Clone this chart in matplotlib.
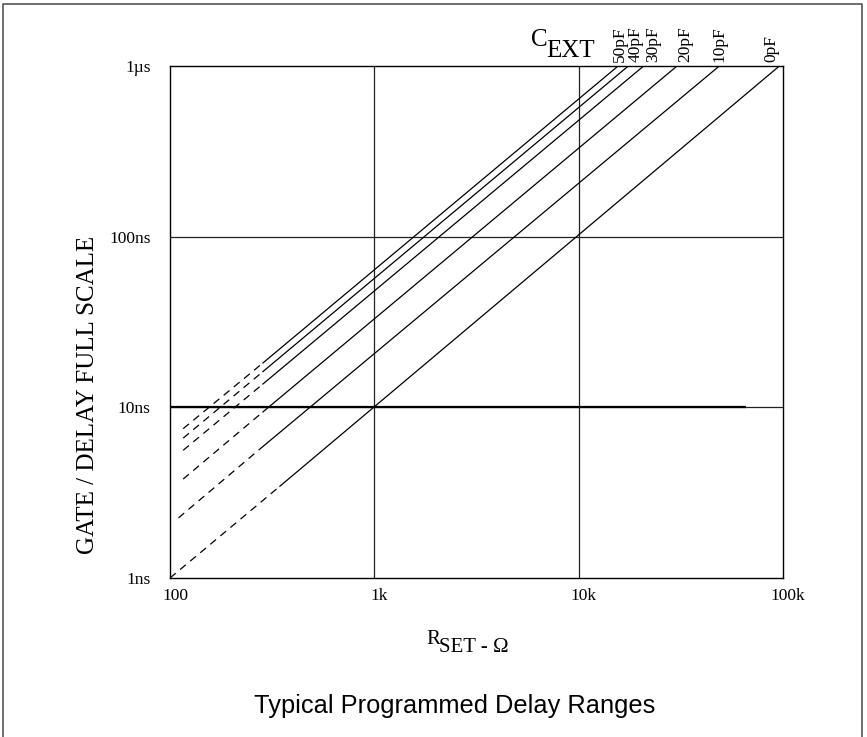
import matplotlib
matplotlib.use("Agg")
import matplotlib.pyplot as plt
from matplotlib.lines import Line2D
from matplotlib.transforms import ScaledTranslation

# ---- data ----
cap_labels = ["50pF", "40pF", "30pF", "20pF", "10pF", "0pF"]
dash_start_r = [116, 116, 116, 116, 110, 100]        # ohms
dash_start_t = [7.5, 6.6, 5.6, 3.8, 2.25, 1.0]       # ns
solid_start_r = [285, 285, 285, 285, 290, 345]
solid_start_t = [18.2, 16.2, 13.7, 9.4, 6.0, 3.45]
end_r = [15600, 17500, 20800, 30300, 48800, 96000]
end_t = [1000, 1000, 1000, 1000, 1000, 1000]
label_r = [15900, 18900, 23100, 33200, 48600, 87500]

ref_line_r = [100, 66000]
ref_line_t = [10, 10]

x_ticks = [100, 1000, 10000, 100000]
x_tick_labels = ["100", "1k", "10k", "100k"]
y_ticks = [1, 10, 100, 1000]
y_tick_labels = ["1ns", "10ns", "100ns", "1\u00b5s"]

serif = ["Liberation Serif", "DejaVu Serif"]
sans = ["Liberation Sans", "DejaVu Sans"]

fig = plt.figure(figsize=(8.67, 7.37), dpi=100)
ax = fig.add_axes([170 / 867, 1 - 578 / 737, 613 / 867, 512 / 737])
ax.set_xscale("log")
ax.set_yscale("log")
ax.set_xlim(100, 100000)
ax.set_ylim(1, 1000)

# grid lines
for gx in [1000, 10000]:
    ax.axvline(gx, color="#222222", lw=0.9, zorder=1)
for gy in [10, 100]:
    ax.axhline(gy, color="#222222", lw=0.9, zorder=1)
ax.plot(ref_line_r, ref_line_t, color="black", lw=1.6, zorder=2, solid_capstyle="butt")

for i in range(len(cap_labels)):
    ax.plot([dash_start_r[i], solid_start_r[i]], [dash_start_t[i], solid_start_t[i]],
            color="black", lw=0.9, linestyle=(0, (6, 4.5)), zorder=3)
    ax.plot([solid_start_r[i], end_r[i]], [solid_start_t[i], end_t[i]],
            color="black", lw=0.9, zorder=3)
    ax.annotate(cap_labels[i], xy=(label_r[i], 1.0), xycoords=ax.get_xaxis_transform(),
                xytext=(0, 3), textcoords="offset points",
                rotation=90, ha="center", va="bottom", fontsize=12.5, family=serif)

for s in ax.spines.values():
    s.set_color("black")
    s.set_linewidth(1.0)

ax.set_xticks(x_ticks)
ax.set_xticklabels(x_tick_labels, family=serif, fontsize=12.5)
ax.set_yticks(y_ticks)
ax.set_yticklabels(y_tick_labels, family=serif, fontsize=12.5)
ax.minorticks_off()
ax.tick_params(axis="both", length=0)
ax.tick_params(axis="x", pad=7)
ax.tick_params(axis="y", pad=14)
shift = ScaledTranslation(5 / 100, 0, fig.dpi_scale_trans)
for lbl in ax.get_xticklabels():
    lbl.set_transform(lbl.get_transform() + shift)

# C_EXT label
fig.text(531 / 867, 1 - 46 / 737, "C", family=serif, fontsize=18, ha="left", va="baseline")
fig.text(546 / 867, 1 - 57 / 737, "EXT", family=serif, fontsize=18, ha="left", va="baseline")

# axis labels
fig.text(88 / 867, 1 - 395 / 737, "GATE / DELAY FULL SCALE", rotation=90,
         family=serif, fontsize=18, ha="center", va="center")
fig.text(426 / 867, 1 - 644 / 737, "R", family=serif, fontsize=15, ha="left", va="baseline")
fig.text(439 / 867, 1 - 652 / 737, "SET - \u03a9", family=serif, fontsize=15, ha="left", va="baseline")

fig.text(455 / 867, 1 - 706 / 737, "Typical Programmed Delay Ranges", family=sans,
         fontsize=18.3, ha="center", va="center")

# figure border (left, top, right)
fig.lines.append(Line2D([3 / 867, 3 / 867, 862 / 867, 862 / 867], [0, 1 - 4 / 737, 1 - 4 / 737, 0],
                        transform=fig.transFigure, color="#555555", lw=1.2))

fig.savefig("out.png", dpi=100)
